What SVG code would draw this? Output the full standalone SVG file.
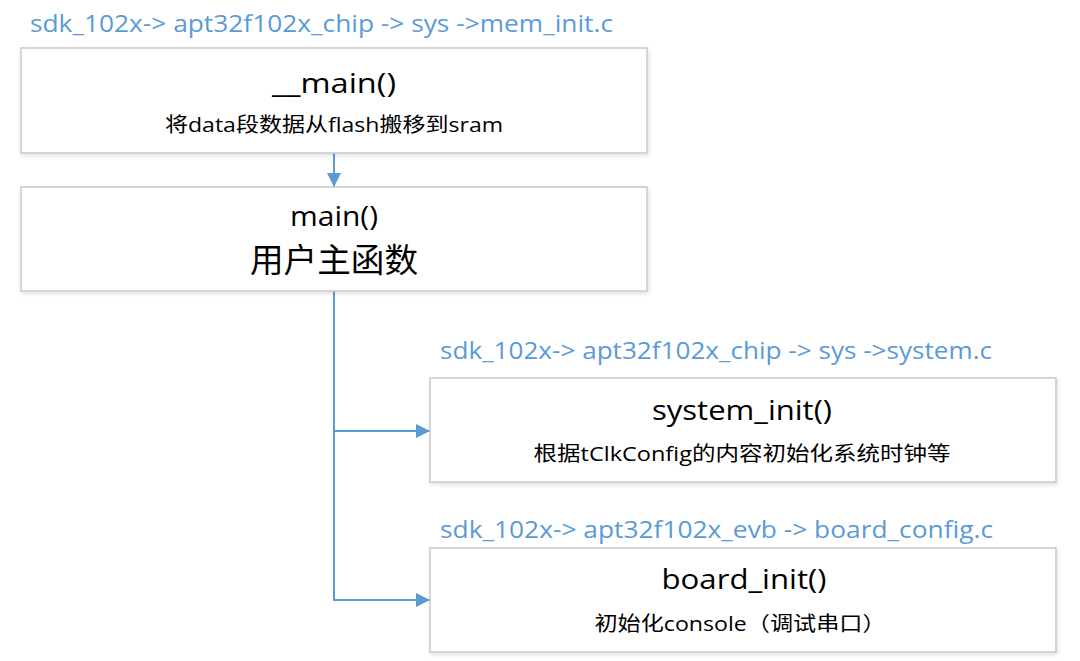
<svg xmlns="http://www.w3.org/2000/svg" width="1080" height="661" viewBox="0 0 1080 661">
<defs>
<filter id="sh" x="-5%" y="-10%" width="110%" height="125%">
<feDropShadow dx="1" dy="2" stdDeviation="2" flood-color="#000" flood-opacity="0.12"/>
</filter>
<marker id="arr" markerWidth="14" markerHeight="14" refX="14" refY="7" orient="auto" markerUnits="userSpaceOnUse">
<path d="M0,0 L14,7 L0,14 Z" fill="#5B9BD5"/>
</marker>
</defs>
<style>
.box{fill:#fff;stroke:#c9c9c9;stroke-width:1.5;filter:url(#sh)}
.lbl{font-family:"Open Sans","Liberation Sans",sans-serif;font-size:23px;fill:#5B9BD5}
.ttl{font-family:"Open Sans","Liberation Sans",sans-serif;font-size:28px;fill:#000;text-anchor:middle}
.sub{font-family:"Open Sans","Noto Sans CJK SC",sans-serif;font-size:20px;fill:#000;text-anchor:middle}
.big{font-family:"Noto Sans CJK SC",sans-serif;font-size:33px;fill:#000;text-anchor:middle}
.con{fill:none;stroke:#5B9BD5;stroke-width:2}
</style>
<rect width="1080" height="661" fill="#fff"/>
<text class="lbl" x="30" y="32" textLength="583" lengthAdjust="spacingAndGlyphs">sdk_102x-&gt; apt32f102x_chip -&gt; sys -&gt;mem_init.c</text>
<text class="lbl" x="440" y="359" textLength="552" lengthAdjust="spacingAndGlyphs">sdk_102x-&gt; apt32f102x_chip -&gt; sys -&gt;system.c</text>
<text class="lbl" x="440" y="538" textLength="553" lengthAdjust="spacingAndGlyphs">sdk_102x-&gt; apt32f102x_evb -&gt; board_config.c</text>
<g id="connectors">
<path class="con" d="M334,153 L334,187" marker-end="url(#arr)"/>
<path class="con" d="M334,291 L334,600 L430,600" marker-end="url(#arr)"/>
<path class="con" d="M334,431 L430,431" marker-end="url(#arr)"/>
</g>
<g id="node-main0">
<rect class="box" x="21" y="48" width="626" height="105"/>
<text class="ttl" x="334" y="93" textLength="124" lengthAdjust="spacingAndGlyphs">__main()</text>
<text class="sub" x="334" y="132" textLength="338" lengthAdjust="spacingAndGlyphs">将data段数据从flash搬移到sram</text>
</g>
<g id="node-main">
<rect class="box" x="21" y="187" width="626" height="104"/>
<text class="ttl" x="334" y="226" textLength="88" lengthAdjust="spacingAndGlyphs">main()</text>
<text class="big" x="334" y="272" textLength="168" lengthAdjust="spacingAndGlyphs">用户主函数</text>
</g>
<g id="node-system-init">
<rect class="box" x="430" y="378" width="626" height="104"/>
<text class="ttl" x="742" y="420" textLength="180" lengthAdjust="spacingAndGlyphs">system_init()</text>
<text class="sub" x="742" y="461" textLength="417" lengthAdjust="spacingAndGlyphs">根据tClkConfig的内容初始化系统时钟等</text>
</g>
<g id="node-board-init">
<rect class="box" x="430" y="548" width="626" height="104"/>
<text class="ttl" x="744" y="589" textLength="165" lengthAdjust="spacingAndGlyphs">board_init()</text>
<text class="sub" x="740" y="631" textLength="291" lengthAdjust="spacingAndGlyphs">初始化console（调试串口）</text>
</g>
</svg>
